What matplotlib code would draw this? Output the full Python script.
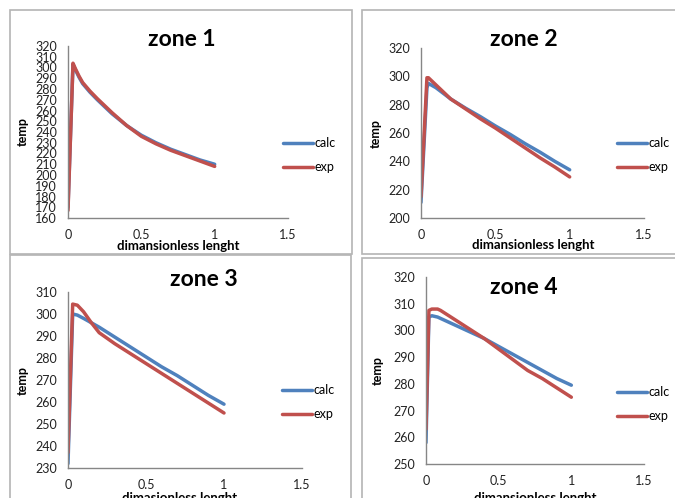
import matplotlib.pyplot as plt
from matplotlib.patches import Rectangle

plt.rcParams['font.family'] = ['Lato', 'DejaVu Sans']

W, H = 675, 498

# data
x1 = [0.0, 0.034, 0.05, 0.075, 0.1, 0.15, 0.2, 0.3, 0.4, 0.5, 0.6, 0.7, 0.8, 0.9, 1.0]
calc1 = [170, 303, 298, 291, 285, 277, 270, 257, 246, 237, 230, 224, 219, 214, 210]
exp1 = [167, 304, 299, 292, 286, 278, 271, 258, 246, 236, 229, 223, 218, 213, 208]

x2 = [0.0, 0.04, 0.05, 0.1, 0.2, 0.3, 0.4, 0.5, 0.6, 0.7, 0.8, 0.9, 1.0]
calc2 = [211, 292, 295, 292, 284, 277.5, 271.5, 265, 259, 252.5, 246.5, 240, 234]
exp2 = [215, 299, 299, 294, 284, 277, 270, 263.5, 256.5, 249.5, 242.5, 236, 229]

x3 = [0.0, 0.03, 0.06, 0.1, 0.15, 0.2, 0.3, 0.4, 0.5, 0.6, 0.7, 0.8, 0.9, 1.0]
calc3 = [232, 300, 299.5, 298, 296, 294, 289.5, 285, 280.5, 276, 272, 267.5, 263, 259]
exp3 = [237, 304.5, 304, 301, 296, 291.5, 286.5, 282, 277.5, 273, 268.5, 264, 259.5, 255]

x4 = [0.0, 0.02, 0.04, 0.08, 0.1, 0.2, 0.3, 0.4, 0.45, 0.5, 0.6, 0.7, 0.75, 0.8, 0.9, 1.0]
calc4 = [258, 305, 305.5, 305, 304.5, 302, 299.5, 297, 295.5, 294, 291, 288, 286.5, 285, 282, 279.5]
exp4 = [263, 307.5, 308, 308, 307.5, 304, 300.5, 297, 295, 293, 289, 285, 283.5, 282, 278.5, 275]

titles = ['zone 1', 'zone 2', 'zone 3', 'zone 4']
xlabels = ['dimansionless lenght', 'dimansionless lenght',
           'dimasionless lenght', 'dimansionless lenght']
yticks_list = [list(range(160, 321, 10)), list(range(200, 321, 20)),
               list(range(230, 311, 10)), list(range(250, 321, 10))]
xticks = [0, 0.5, 1, 1.5]
xticklabels = ['0', '0.5', '1', '1.5']

BLUE = '#4F81BD'
RED = '#C0504D'
AXC = '#868686'


def fx(px):
    return px / W


def fy(py):
    return 1 - py / H


fig = plt.figure(figsize=(W / 100, H / 100), dpi=100)

# chart frames (pixels: left, top, right, bottom)
frames = [(10, 10, 352, 254), (362, 10, 676, 254),
          (10, 255, 351, 500), (362, 258, 676, 500)]
for l, t, r, b in frames:
    fig.add_artist(Rectangle((fx(l), fy(b)), fx(r - l), (b - t) / H,
                             transform=fig.transFigure, fill=False,
                             edgecolor='#B4B4B4', linewidth=1.2))

# plot areas (pixels)
areas = [(68, 46, 288, 218), (421, 48, 644, 218),
         (68, 292, 302, 468), (426, 277, 644, 464)]
xs = [x1, x2, x3, x4]
calcs = [calc1, calc2, calc3, calc4]
exps = [exp1, exp2, exp3, exp4]
title_pos = [(182, 39), (524, 39), (204, 279), (524, 287)]
xlabel_pos = [(178, 246), (533, 245), (180, 498), (535, 498)]
ylabel_x = [23, 376, 23, 378]
legend_pos = [(283, 155), (617, 155), (282, 402), (617, 404)]

for i in range(4):
    l, t, r, b = areas[i]
    ax = fig.add_axes([fx(l), fy(b), fx(r - l), (b - t) / H])
    ax.plot(xs[i], calcs[i], color=BLUE, lw=2.5, label='calc',
            solid_capstyle='round', solid_joinstyle='round')
    ax.plot(xs[i], exps[i], color=RED, lw=2.5, label='exp',
            solid_capstyle='round', solid_joinstyle='round')
    yt = yticks_list[i]
    ax.set_xlim(0, 1.5)
    ax.set_ylim(yt[0], yt[-1])
    ax.set_yticks(yt)
    ax.set_xticks(xticks)
    ax.set_xticklabels(xticklabels)
    ax.tick_params(length=0, labelsize=9, pad=8, colors='#222222')
    for s in ['top', 'right']:
        ax.spines[s].set_visible(False)
    for s in ['left', 'bottom']:
        ax.spines[s].set_color(AXC)
        ax.spines[s].set_linewidth(1)
    ax.patch.set_visible(False)

    fig.text(fx(title_pos[i][0]), fy(title_pos[i][1]), titles[i],
             ha='center', va='center', fontsize=16.5, fontweight='bold')
    fig.text(fx(xlabel_pos[i][0]), fy(xlabel_pos[i][1]), xlabels[i],
             ha='center', va='center', fontsize=9.5, fontweight='bold')
    fig.text(fx(ylabel_x[i]), fy((t + b) / 2), 'temp', rotation=90,
             ha='center', va='center', fontsize=9, fontweight='bold')
    ax.legend(loc='center left', bbox_to_anchor=(fx(legend_pos[i][0]), fy(legend_pos[i][1])),
              bbox_transform=fig.transFigure, frameon=False, fontsize=9,
              handlelength=2.4, handletextpad=0.15, labelspacing=0.95,
              borderpad=0, borderaxespad=0)

fig.savefig('out.png', dpi=100)
